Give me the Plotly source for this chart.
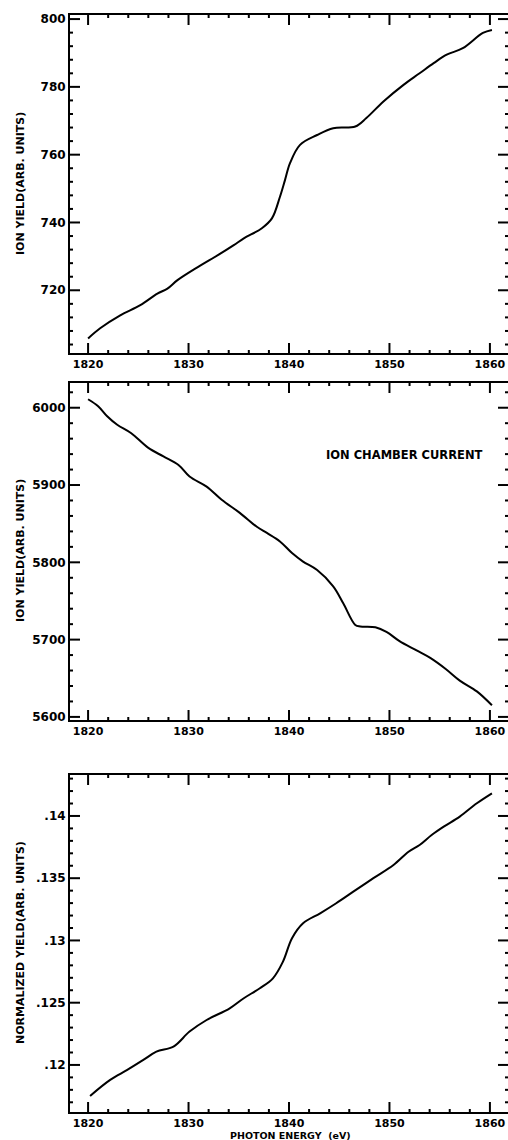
import plotly.graph_objects as go

# ---------------- data ----------------
energy_ion = [1820.0, 1821.2, 1823.2, 1825.2, 1826.9, 1827.9, 1828.9, 1831.0, 1833.0, 1834.5,
              1835.5, 1837.3, 1838.3, 1839.1, 1839.6, 1840.1, 1841.1, 1842.8, 1844.4, 1846.6,
              1847.7, 1849.4, 1851.4, 1853.0, 1854.4, 1855.7, 1857.3, 1859.3, 1860.2]
ion_yield = [705.8, 708.8, 712.6, 715.6, 719.0, 720.5, 723.0, 727.0, 730.5, 733.3,
             735.3, 738.3, 741.2, 747.6, 752.5, 757.5, 762.9, 765.8, 767.8, 768.3,
             770.8, 775.7, 780.6, 784.0, 787.0, 789.5, 791.4, 795.9, 796.8]

energy_chamber = [1820.0, 1821.0, 1821.9, 1822.9, 1824.3, 1826.0, 1827.5, 1829.0, 1830.1, 1831.8,
                  1833.3, 1835.1, 1836.8, 1837.8, 1839.1, 1840.3, 1841.4, 1842.8, 1844.4, 1845.4,
                  1846.6, 1847.1, 1848.6, 1849.7, 1851.0, 1852.7, 1854.1, 1855.6, 1857.0, 1858.7,
                  1860.2]
chamber_current = [6011, 6002, 5989, 5978, 5967, 5948, 5937, 5926, 5911, 5898,
                   5881, 5864, 5846, 5838, 5827, 5812, 5801, 5790, 5769, 5747,
                   5719, 5717, 5716, 5710, 5698, 5686, 5676, 5662, 5647, 5633,
                   5615]

energy_norm = [1820.2, 1822.2, 1823.9, 1825.5, 1826.8, 1828.5, 1830.1, 1831.8, 1834.1, 1835.5,
               1837.1, 1838.4, 1839.4, 1840.3, 1841.4, 1843.1, 1844.7, 1846.4, 1848.4, 1850.4,
               1851.9, 1853.0, 1854.2, 1855.4, 1857.0, 1858.7, 1860.2]
norm_yield = [0.11751, 0.11880, 0.11960, 0.12040, 0.12107, 0.12147, 0.12268, 0.12361, 0.12455, 0.12536,
              0.12616, 0.12696, 0.12830, 0.13018, 0.13138, 0.13218, 0.13299, 0.13392, 0.13500, 0.13606,
              0.13713, 0.13767, 0.13847, 0.13914, 0.13995, 0.14102, 0.14182]

x_tickvals = [1820, 1830, 1840, 1850, 1860]
y1_tickvals = [720, 740, 760, 780, 800]
y2_tickvals = [5600, 5700, 5800, 5900, 6000]
y3_tickvals = [0.12, 0.125, 0.13, 0.135, 0.14]
y3_ticktext = [".12", ".125", ".13", ".135", ".14"]

y_title_ion = "ION YIELD(ARB. UNITS)"
y_title_norm = "NORMALIZED YIELD(ARB. UNITS)"
x_title = "PHOTON ENERGY  (eV)"
panel2_label = "ION CHAMBER CURRENT"

# ---------------- figure ----------------
W, H = 508, 1140
def py(px):
    return 1 - px / H

tickfont = dict(family="DejaVu Sans", size=12, color="black", weight="bold")
xtickfont = dict(family="DejaVu Sans", size=11, color="black", weight="bold")
labfont = dict(family="DejaVu Sans", size=11, color="black", weight="bold")

fig = go.Figure()
line = dict(color="black", width=2)
fig.add_trace(go.Scatter(x=energy_ion, y=ion_yield, mode="lines", line=line,
                         xaxis="x", yaxis="y", showlegend=False, line_shape="spline"))
fig.add_trace(go.Scatter(x=energy_chamber, y=chamber_current, mode="lines", line=line,
                         xaxis="x2", yaxis="y2", showlegend=False, line_shape="spline"))
fig.add_trace(go.Scatter(x=energy_norm, y=norm_yield, mode="lines", line=line,
                         xaxis="x3", yaxis="y3", showlegend=False, line_shape="spline"))

xdom = [70 / W, 1.0]
xrange_ = [1818.2, 1861.8]
panel_w = W - 70

def xax(anchor):
    return dict(domain=xdom, range=xrange_, anchor=anchor,
                tickmode="array", tickvals=x_tickvals, ticks="",
                showline=True, linecolor="black", linewidth=2, mirror=True,
                showgrid=False, zeroline=False, tickfont=xtickfont, automargin=False)

def yax(anchor, dom, rng, tickvals, ticktext=None):
    d = dict(domain=dom, range=rng, anchor=anchor, ticks="",
             tickmode="array", tickvals=tickvals,
             showline=True, linecolor="black", linewidth=2, mirror=True,
             showgrid=False, zeroline=False, tickfont=tickfont, automargin=False)
    if ticktext is not None:
        d["ticktext"] = ticktext
    return d

panels = [
    ("x", "y", (15, 353), [701.5, 801.2], y1_tickvals, 4),
    ("x2", "y2", (383, 720), [5596, 6032], y2_tickvals, 20),
    ("x3", "y3", (775, 1112), [0.11622, 0.14329], y3_tickvals, 0.001),
]

fig.update_layout(
    template="none",
    width=W, height=H, autosize=False,
    margin=dict(l=0, r=0, t=0, b=0, pad=0),
    paper_bgcolor="white", plot_bgcolor="white",
    xaxis=xax("y"), xaxis2=xax("y2"), xaxis3=xax("y3"),
    yaxis=yax("x", [py(353), py(15)], [701.5, 801.2], y1_tickvals),
    yaxis2=yax("x2", [py(720), py(383)], [5596, 6032], y2_tickvals),
    yaxis3=yax("x3", [py(1112), py(775)], [0.11622, 0.14329], y3_tickvals, y3_ticktext),
)

# inward tick marks on all four sides (major + minor), drawn as line traces at axis values
MAJ, MIN = 10, 3
for xa, ya, (top, bot), yr, yt, ymin_step in panels:
    ph = bot - top
    yspan = yr[1] - yr[0]
    xspan = xrange_[1] - xrange_[0]
    tx, ty = [], []
    xminor = [1820 + 2 * k for k in range(-1, 22)]
    for xv in xminor:
        if not (xrange_[0] < xv < xrange_[1]):
            continue
        L = (MAJ if xv in x_tickvals else MIN) / ph * yspan
        tx += [xv, xv, None, xv, xv, None]
        ty += [yr[0], yr[0] + L, None, yr[1], yr[1] - L, None]
    step_major = yt[1] - yt[0]
    nsub = int(round(step_major / ymin_step))
    for k in range(-nsub, nsub * (len(yt) + 1)):
        v = yt[0] + k * ymin_step
        if not (yr[0] < v < yr[1]):
            continue
        L = (MAJ if k % nsub == 0 else MIN) / panel_w * xspan
        tx += [xrange_[0], xrange_[0] + L, None, xrange_[1], xrange_[1] - L, None]
        ty += [v, v, None, v, v, None]
    fig.add_trace(go.Scatter(x=tx, y=ty, mode="lines", xaxis=xa, yaxis=ya,
                             line=dict(color="black", width=2), showlegend=False,
                             hoverinfo="skip", cliponaxis=False))

ann = []
for text, yc in [(y_title_ion, 184), (y_title_ion, 551), (y_title_norm, 943)]:
    ann.append(dict(text=text, x=20 / W, y=py(yc), xref="paper", yref="paper",
                    textangle=-90, showarrow=False, xanchor="center", yanchor="middle",
                    font=labfont))
ann.append(dict(text=x_title, x=290 / W, y=py(1135), xref="paper", yref="paper",
                showarrow=False, xanchor="center", yanchor="middle",
                font=dict(family="DejaVu Sans", size=9.5, color="black", weight="bold")))
ann.append(dict(text=panel2_label, x=404 / W, y=py(455), xref="paper", yref="paper",
                showarrow=False, xanchor="center", yanchor="middle",
                font=dict(family="DejaVu Sans", size=11.5, color="black", weight="bold")))
fig.update_layout(annotations=ann)

fig.write_html("out.html")
